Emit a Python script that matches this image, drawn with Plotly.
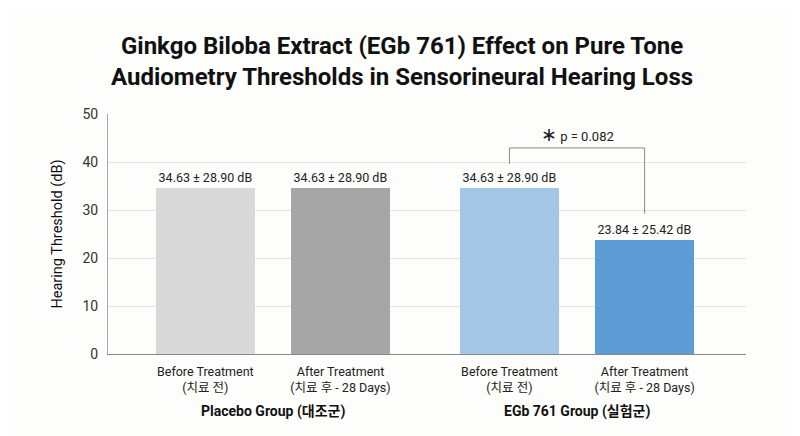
import plotly.graph_objects as go

# ---- data ----
categories = ["Before Treatment<br>(치료 전)", "After Treatment<br>(치료 후 - 28 Days)",
              "Before Treatment<br>(치료 전)", "After Treatment<br>(치료 후 - 28 Days)"]
groups = ["Placebo Group (대조군)", "EGb 761 Group (실험군)"]
means = [34.63, 34.63, 34.63, 23.84]
sds = [28.90, 28.90, 28.90, 25.42]
bar_colors = ["#d9d9d9", "#a6a6a6", "#a4c6e6", "#5d9bd4"]
p_value = 0.082
y_ticks = [0, 10, 20, 30, 40, 50]

# bar positions on a numeric axis (extra gap between groups)
positions = [0, 1, 2.25, 3.25]
labels = [f"{m:.2f} ± {s:.2f} dB" for m, s in zip(means, sds)]

FONT = "Roboto, 'Noto Sans CJK KR', sans-serif"

fig = go.Figure()
fig.add_trace(go.Bar(
    x=positions, y=means, width=0.73,
    marker=dict(color=bar_colors, line=dict(width=0)),
    text=labels, textposition="outside", cliponaxis=False,
    textfont=dict(size=12.5, color="#222222", family=FONT),
    hoverinfo="skip",
))

# significance bracket between EGb before/after
x_l, x_r = positions[2], positions[3]
y_top = max(means[2], means[3]) + 8.3
y_l = means[2] + 5.0
y_r = means[3] + 5.4
fig.add_shape(type="line", xref="x", yref="y", x0=x_l, x1=x_l, y0=y_l, y1=y_top,
              line=dict(color="#8a8a8a", width=1))
fig.add_shape(type="line", xref="x", yref="y", x0=x_l, x1=x_r, y0=y_top, y1=y_top,
              line=dict(color="#8a8a8a", width=1))
fig.add_shape(type="line", xref="x", yref="y", x0=x_r, x1=x_r, y0=y_r, y1=y_top,
              line=dict(color="#8a8a8a", width=1))
fig.add_annotation(x=(x_l + x_r) / 2, y=y_top, yanchor="bottom", yshift=0,
                   xref="x", yref="y", showarrow=False,
                   text=f"<span style='font-size:19px'>∗</span> p = {p_value:.3f}",
                   font=dict(size=13, color="#222222", family=FONT))

# group labels
group_centers = [(positions[0] + positions[1]) / 2, (positions[2] + positions[3]) / 2]
for gx, g in zip(group_centers, groups):
    fig.add_annotation(x=gx, y=-0.2375, xref="x", yref="paper", showarrow=False,
                       text=f"<b>{g}</b>", yanchor="middle",
                       font=dict(size=14, color="#111111", family=FONT))

# title
fig.add_annotation(x=0.461, y=1.22, xref="paper", yref="paper", showarrow=False,
                   yanchor="middle", xanchor="center",
                   text="<b>Ginkgo Biloba Extract (EGb 761) Effect on Pure Tone<br>"
                        "Audiometry Thresholds in Sensorineural Hearing Loss</b>",
                   font=dict(size=24, color="#111111", family=FONT))

fig.update_layout(
    width=800, height=436,
    margin=dict(l=100, r=62, t=106, b=90),
    paper_bgcolor="#fdfdfc", plot_bgcolor="#fdfdfc",
    showlegend=False,
    bargap=0,
    font=dict(family=FONT, color="#333333"),
)
fig.update_xaxes(
    range=[-0.72, 4.0], tickmode="array", tickvals=positions, ticktext=categories,
    tickfont=dict(size=12.5, color="#222222", family=FONT),
    showgrid=False, zeroline=False, showline=True, linecolor="#888888", linewidth=1,
    ticks="", ticklabelstandoff=6, fixedrange=True,
)
fig.update_yaxes(
    range=[0, 50], tickvals=y_ticks,
    tickfont=dict(size=14, color="#333333", family=FONT),
    showgrid=True, gridcolor="#e4e4e4", gridwidth=1,
    zeroline=False, showline=True, linecolor="#aaaaaa", linewidth=1,
    ticks="", ticklabelstandoff=6,
    title=dict(text="Hearing Threshold (dB)", standoff=16,
               font=dict(size=14.5, color="#111111", family=FONT)),
)

fig.write_html("out.html")
